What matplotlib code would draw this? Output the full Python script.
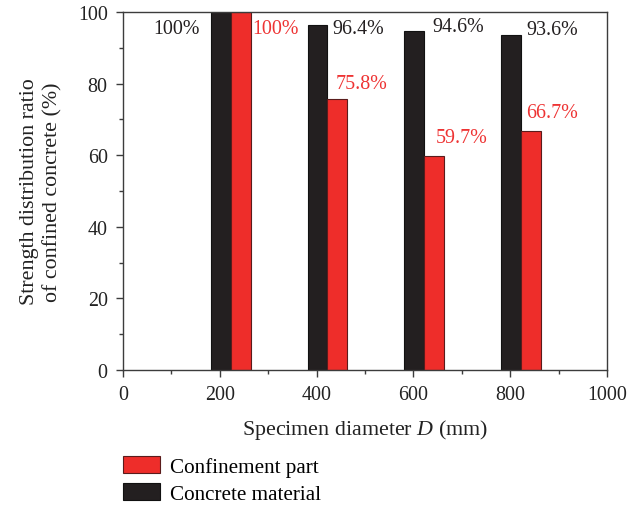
import matplotlib
matplotlib.use("Agg")
import matplotlib.pyplot as plt
from matplotlib.patches import Patch
from matplotlib.ticker import MultipleLocator

plt.rcParams["font.family"] = ["Liberation Serif", "DejaVu Serif"]
plt.rcParams["mathtext.fontset"] = "custom"
plt.rcParams["mathtext.rm"] = "Liberation Serif"
plt.rcParams["mathtext.it"] = "Liberation Serif:italic"

# specimen diameters (mm) and strength ratios (%)
diameters = [200, 400, 600, 800]
concrete_material = [100, 96.4, 94.6, 93.6]
confinement_part = [100, 75.8, 59.7, 66.7]

BLACK = "#231f20"
RED = "#ee2d2a"
RED_TEXT = "#ee3333"
SPINE = "#3c3c3c"
FS = 14
FS_LABEL = 15.8

# annotation anchors (data coords) for each value label
black_label_xy = [(111, 95.3), (485, 95.3), (692, 96.0), (887, 95.1)]
red_label_xy = [(315, 95.3), (492, 80.0), (700, 64.9), (887, 71.9)]

fig = plt.figure(figsize=(6.37, 5.06), dpi=100)
ax = fig.add_axes([123 / 637, 1 - 371 / 506, 484 / 637, 358 / 506])

width = 41
x_black = [d + 2 for d in diameters]
x_red = [d + 2 + width for d in diameters]
ax.bar(x_black, concrete_material, width=width, color=BLACK,
       edgecolor="#111111", linewidth=0.8, zorder=2)
ax.bar(x_red, confinement_part, width=width, color=RED,
       edgecolor="#5a1c1c", linewidth=0.8, zorder=2)

for v, (x, y) in zip(concrete_material, black_label_xy):
    ax.text(x, y, f"{v:g}%", ha="center", va="center", fontsize=FS + 0.4, color=BLACK)
for v, (x, y) in zip(confinement_part, red_label_xy):
    ax.text(x, y, f"{v:g}%", ha="center", va="center", fontsize=FS + 0.4, color=RED_TEXT)

ax.set_xlim(0, 1000)
ax.set_ylim(0, 100)
ax.xaxis.set_major_locator(MultipleLocator(200))
ax.xaxis.set_minor_locator(MultipleLocator(100))
ax.yaxis.set_major_locator(MultipleLocator(20))
ax.yaxis.set_minor_locator(MultipleLocator(10))
ax.tick_params(which="both", direction="out", color=SPINE, width=1,
               labelsize=FS + 0.4, labelcolor="#222222")
ax.tick_params(which="major", length=5, pad=6)
ax.tick_params(which="minor", length=3)
for s in ax.spines.values():
    s.set_color(SPINE)
    s.set_linewidth(1)

ax.set_xlabel("Specimen diameter $D$ (mm)", fontsize=FS_LABEL, color="#222222", labelpad=9)
ax.set_ylabel("Strength distribution ratio\nof confined concrete (%)",
              fontsize=FS_LABEL, color="#222222", labelpad=11, linespacing=1.3)

handles = [
    Patch(facecolor=RED, edgecolor="#5a1c1c", linewidth=0.8, label="Confinement part"),
    Patch(facecolor=BLACK, edgecolor="#111111", linewidth=0.8, label="Concrete material"),
]
fig.legend(handles=handles, loc="upper left", bbox_to_anchor=(123 / 637, 1 - 457 / 506),
           frameon=False, fontsize=15.2, borderpad=0, borderaxespad=0,
           handlelength=1.75, handleheight=0.85, handletextpad=0.5, labelspacing=0.3)

fig.savefig("out.png", dpi=100)
